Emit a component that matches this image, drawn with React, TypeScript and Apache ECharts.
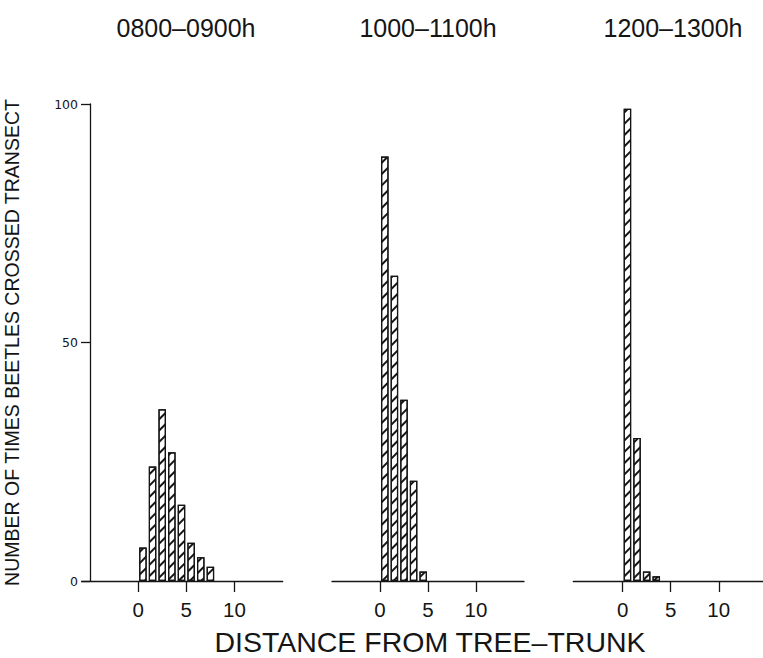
import React, { useEffect, useRef } from "react";
import * as echarts from "echarts";

const PANEL_TITLES = ["0800–0900h", "1000–1100h", "1200–1300h"];
const DIST_0800 = [0.5, 1.5, 2.5, 3.5, 4.5, 5.5, 6.5, 7.5];
const COUNT_0800 = [7, 24, 36, 27, 16, 8, 5, 3];
const DIST_1000 = [0.5, 1.5, 2.5, 3.5, 4.5];
const COUNT_1000 = [89, 64, 38, 21, 2];
const DIST_1200 = [0.5, 1.5, 2.5, 3.5];
const COUNT_1200 = [99, 30, 2, 1];
const X_TICKS = [0, 5, 10];
const Y_NAME = "NUMBER OF TIMES BEETLES CROSSED TRANSECT";
const X_NAME = "DISTANCE FROM TREE–TRUNK";

const FONT = '"Liberation Sans", Arial, sans-serif';
const INK = "#151515";

const PANELS = [
  { dist: DIST_0800, count: COUNT_0800, left: 81.7, width: 201, min: -5.85, max: 15, titleX: 186 },
  { dist: DIST_1000, count: COUNT_1000, left: 332, width: 192, min: -5, max: 15, titleX: 428 },
  { dist: DIST_1200, count: COUNT_1200, left: 573.3, width: 190, min: -5.13, max: 14.6, titleX: 673 },
];

export default function App() {
  const ref = useRef<HTMLDivElement>(null);
  useEffect(() => {
    if (!ref.current) return;
    const chart = echarts.init(ref.current, null, { renderer: "svg" });
    const lineStyle = { color: INK, width: 1.3 };
    const option: any = {
      animation: false,
      backgroundColor: "#fff",
      grid: PANELS.map((p) => ({ left: p.left, top: 104, width: p.width, height: 477 })),
      xAxis: PANELS.map((p, i) => ({
        type: "value",
        gridIndex: i,
        min: p.min,
        max: p.max,
        axisLine: { show: true, onZero: false, lineStyle },
        axisTick: { show: true, customValues: X_TICKS, length: 11, lineStyle },
        axisLabel: {
          customValues: X_TICKS,
          fontSize: 20.5,
          margin: 18,
          color: INK,
          fontFamily: FONT,
        },
        splitLine: { show: false },
      })),
      yAxis: PANELS.map((p, i) =>
        i === 0
          ? {
              type: "value",
              gridIndex: 0,
              min: 0,
              max: 100,
              interval: 50,
              offset: -8.3,
              axisLine: { show: true, onZero: false, lineStyle },
              axisTick: { show: true, length: 9, lineStyle },
              axisLabel: { fontSize: 12.5, margin: 12, color: INK, fontFamily: '"DejaVu Sans", sans-serif' },
              splitLine: { show: false },
              name: Y_NAME,
              nameLocation: "middle",
              nameRotate: 90,
              nameGap: 68,
              nameTextStyle: { fontSize: 19.5, color: INK, fontFamily: FONT },
            }
          : {
              type: "value",
              gridIndex: i,
              min: 0,
              max: 100,
              show: false,
            }
      ),
      series: PANELS.map((p, i) => ({
        type: "bar",
        xAxisIndex: i,
        yAxisIndex: i,
        barWidth: 7.5,
        data: p.dist.map((d, j) => [d, p.count[j]]),
        itemStyle: {
          color: "#fff",
          borderColor: INK,
          borderWidth: 1.2,
          decal: {
            symbol: "rect",
            symbolSize: 1,
            color: INK,
            backgroundColor: "#fff",
            dashArrayX: [1, 0],
            dashArrayY: [1.1, 5.4],
            rotation: -Math.PI / 4,
          },
        },
      })),
      graphic: [
        ...PANELS.map((p, i) => ({
          type: "text",
          x: p.titleX,
          y: 28,
          style: {
            text: PANEL_TITLES[i],
            fontSize: 25,
            fontFamily: FONT,
            fill: INK,
            textAlign: "center",
            textVerticalAlign: "middle",
          },
        })),
        {
          type: "text",
          x: 430,
          y: 642,
          style: {
            text: X_NAME,
            fontSize: 28.5,
            fontFamily: FONT,
            fill: INK,
            textAlign: "center",
            textVerticalAlign: "middle",
          },
        },
      ],
    };
    chart.setOption(option);
    return () => chart.dispose();
  }, []);
  return (
    <div
      ref={ref}
      style={{ position: "fixed", left: 0, top: 0, width: 763, height: 658, background: "#fff" }}
    />
  );
}
